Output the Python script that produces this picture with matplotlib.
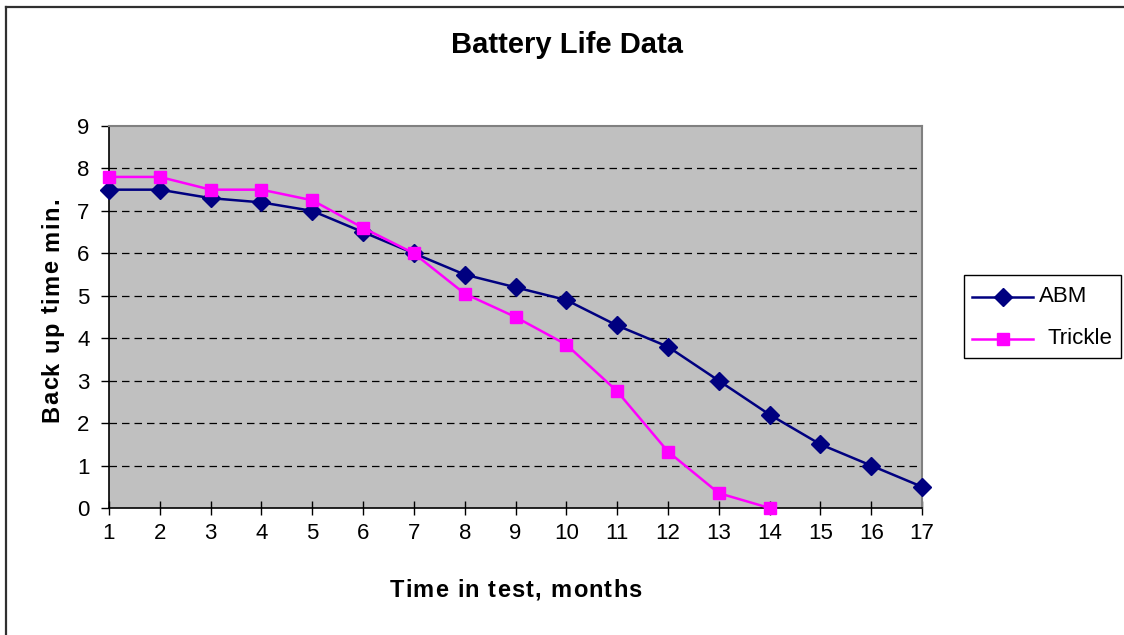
import matplotlib
matplotlib.use("Agg")
import matplotlib.pyplot as plt
from matplotlib.lines import Line2D
from matplotlib.patches import Rectangle
from matplotlib.font_manager import FontProperties, findfont, get_font

months = list(range(1, 18))
abm = [7.5, 7.5, 7.3, 7.2, 7.0, 6.5, 6.0, 5.5, 5.2, 4.9, 4.3, 3.8, 3.0, 2.2, 1.5, 1.0, 0.5]
trickle_months = list(range(1, 15))
trickle = [7.8, 7.8, 7.5, 7.5, 7.25, 6.6, 6.0, 5.05, 4.5, 3.85, 2.75, 1.33, 0.35, 0.0]
y_ticks = list(range(0, 10))
series_names = ['ABM', 'Trickle']

FAM = ['Liberation Sans', 'DejaVu Sans']
plt.rcParams['font.family'] = FAM

W, H = 1124, 635
DPI = 100
fig = plt.figure(figsize=(W / DPI, H / DPI), dpi=DPI)
fig.patch.set_facecolor('white')


def fx(px):
    return px / W


def fy(py):
    return 1 - py / H


# outer chart-area border (only top and left are visible in the reference crop)
fig.add_artist(Line2D([fx(5.5), fx(W)], [fy(6.5), fy(6.5)], color='#303030', linewidth=1.6,
                      transform=fig.transFigure))
fig.add_artist(Line2D([fx(5.5), fx(5.5)], [fy(6.5), fy(H)], color='#303030', linewidth=1.6,
                      transform=fig.transFigure))

ax = fig.add_axes([fx(109), fy(508), (922 - 109) / W, (508 - 126) / H])
ax.set_facecolor('#C0C0C0')

c_abm, c_tri = '#000080', '#FF00FF'
ax.plot(months, abm, color=c_abm, marker='D', markersize=9, linewidth=1.8,
        clip_on=False, zorder=3)
ax.plot(trickle_months, trickle, color=c_tri, marker='s', markersize=9, linewidth=1.8,
        clip_on=False, zorder=4)

ax.set_xlim(1, 17)
ax.set_ylim(0, 9)
ax.set_xticks(months)
ax.set_yticks(y_ticks)
for y in y_ticks[1:-1]:
    ax.axhline(y, color='black', linestyle=(0, (6, 4)), linewidth=0.9, zorder=1)

ax.tick_params(axis='x', direction='inout', length=10, labelsize=16, pad=6, width=1)
ax.tick_params(axis='y', direction='out', length=6, labelsize=16, pad=8, width=1)

for s in ['left', 'bottom']:
    ax.spines[s].set_color('black')
    ax.spines[s].set_linewidth(1.2)
for s in ['top', 'right']:
    ax.spines[s].set_color('#808080')
    ax.spines[s].set_linewidth(1.5)


def spaced_text(cx, base, s, size, spacing_px, vertical=False):
    fp = FontProperties(family='Liberation Sans', weight='bold', size=size)
    font = get_font(findfont(fp))
    font.set_size(size, DPI)
    advs = [font.load_char(ord(c)).linearHoriAdvance / 65536 for c in s]
    total = sum(advs) + spacing_px * (len(s) - 1)
    pos = -total / 2
    for c, a in zip(s, advs):
        mid = pos + a / 2
        if c != ' ':
            if vertical:
                fig.text(fx(base), fy(cx - mid), c, fontproperties=fp, rotation=90,
                         rotation_mode='anchor', ha='center', va='baseline')
            else:
                fig.text(fx(cx + mid), fy(base), c, fontproperties=fp,
                         ha='center', va='baseline')
        pos += a + spacing_px


spaced_text(515.5, 597, 'Time in test, months', 17, 1.2)
spaced_text(310, 58, 'Back up time min.', 17, 1.4, vertical=True)
fig.text(fx(567), fy(45), 'Battery Life Data', ha='center', va='center',
         fontsize=21, fontweight='bold')

# legend
fig.add_artist(Rectangle((fx(964), fy(358)), (1121 - 964) / W, (358 - 275) / H,
                         transform=fig.transFigure, facecolor='white', edgecolor='black',
                         linewidth=1.0))
rows = [(297, c_abm, 'D', 1039), (339, c_tri, 's', 1047)]
for (ry, col, mk, tx), name in zip(rows, series_names):
    fig.add_artist(Line2D([fx(972), fx(1033)], [fy(ry), fy(ry)], color=col, linewidth=1.8,
                          transform=fig.transFigure))
    fig.add_artist(Line2D([fx(1002.5)], [fy(ry)], color=col, marker=mk, markersize=9 if mk == 'D' else 8,
                          linestyle='none', transform=fig.transFigure))
    fig.text(fx(tx), fy(ry), name, ha='left', va='center', fontsize=16)

fig.savefig('out.png', dpi=DPI)
